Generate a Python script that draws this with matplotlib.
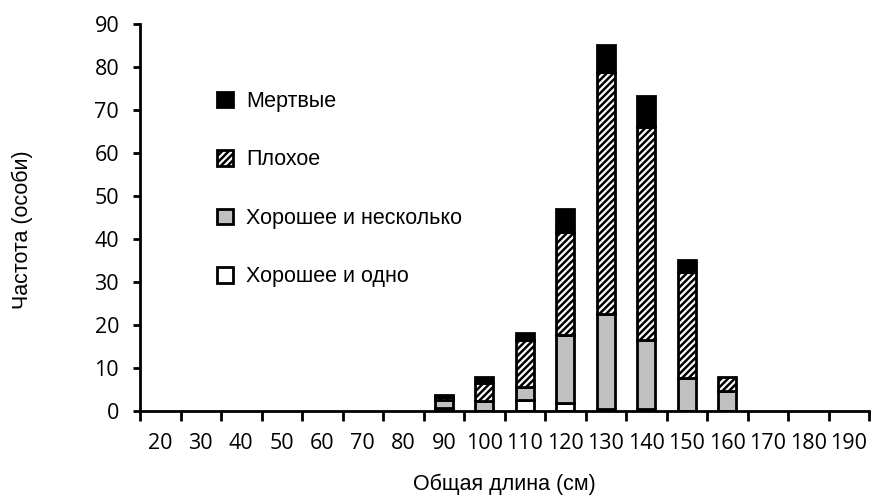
import matplotlib
matplotlib.use('Agg')
import matplotlib.pyplot as plt
from matplotlib.patches import Patch
import numpy as np

# Length classes (cm)
lengths = [20, 30, 40, 50, 60, 70, 80, 90, 100, 110, 120, 130, 140, 150, 160, 170, 180, 190]

# Frequencies per condition
good_one = [0, 0, 0, 0, 0, 0, 0, 0.8, 0, 2.6, 1.8, 0.5, 0.5, 0, 0, 0, 0, 0]
good_several = [0, 0, 0, 0, 0, 0, 0, 1.7, 2.4, 2.9, 15.9, 22.1, 16.0, 7.6, 4.7, 0, 0, 0]
poor = [0, 0, 0, 0, 0, 0, 0, 0.8, 4.0, 11.1, 24.0, 56.3, 49.5, 24.8, 3.1, 0, 0, 0]
dead = [0, 0, 0, 0, 0, 0, 0, 0.4, 1.6, 1.5, 5.2, 6.2, 7.3, 2.7, 0, 0, 0, 0]

labels = ['Хорошее и одно', 'Хорошее и несколько', 'Плохое', 'Мертвые']

plt.rcParams['hatch.linewidth'] = 1.8

fig = plt.figure(figsize=(8.72, 5.01), dpi=100)
ax = fig.add_axes([140 / 872, 1 - 411 / 501, 729 / 872, (411 - 24) / 501])

x = np.arange(len(lengths))
w = 0.45
lw = 2.0

series = [(good_one, dict(color='white')),
          (good_several, dict(color='#c0c0c0')),
          (poor, dict(color='white', hatch='/////')),
          (dead, dict(color='black'))]

bottom = np.zeros(len(lengths))
for vals, style in series:
    vals = np.array(vals, dtype=float)
    keep = vals > 0  # empty classes draw nothing
    ax.bar(x[keep], vals[keep], w, bottom=bottom[keep], edgecolor='black', linewidth=lw, **style)
    bottom += vals

ax.set_xlim(-0.5, len(lengths) - 0.5)
ax.set_ylim(0, 90)
ax.set_yticks(range(0, 91, 10))

for s in ['top', 'right']:
    ax.spines[s].set_visible(False)
for s in ['left', 'bottom']:
    ax.spines[s].set_linewidth(2.0)

tick_font = dict(family='Open Sans', size=15.5)
ax.set_xticks(x)
ax.set_xticklabels([str(v) for v in lengths], **tick_font)
ax.set_xticks(np.arange(len(lengths) + 1) - 0.5, minor=True)
ax.tick_params(axis='x', which='major', length=0, pad=16)
ax.tick_params(axis='x', which='minor', length=7, width=2.0, direction='out')
ax.set_yticklabels([str(v) for v in range(0, 91, 10)], **tick_font)
ax.tick_params(axis='y', length=5, width=2.0, pad=10)

ax.set_xlabel('Общая длина (см)', family='Liberation Sans', size=15.5, labelpad=14)
ax.set_ylabel('Частота (особи)', family='Liberation Sans', size=15.5)
ax.yaxis.set_label_coords(-0.147, 0.468)

handles = [
    Patch(facecolor='black', edgecolor='black', linewidth=lw),
    Patch(facecolor='white', edgecolor='black', linewidth=lw, hatch='/////'),
    Patch(facecolor='#c0c0c0', edgecolor='black', linewidth=lw),
    Patch(facecolor='white', edgecolor='black', linewidth=lw),
]
ax.legend(handles, labels[::-1], loc='upper left', bbox_to_anchor=(217 / 872, 1 - 91 / 501),
          bbox_transform=fig.transFigure, frameon=False, borderpad=0, borderaxespad=0,
          handlelength=0.75, handleheight=0.75, handletextpad=0.6, labelspacing=1.74,
          prop=dict(family='Liberation Sans', size=15.5))

fig.savefig('out.png', dpi=100)
